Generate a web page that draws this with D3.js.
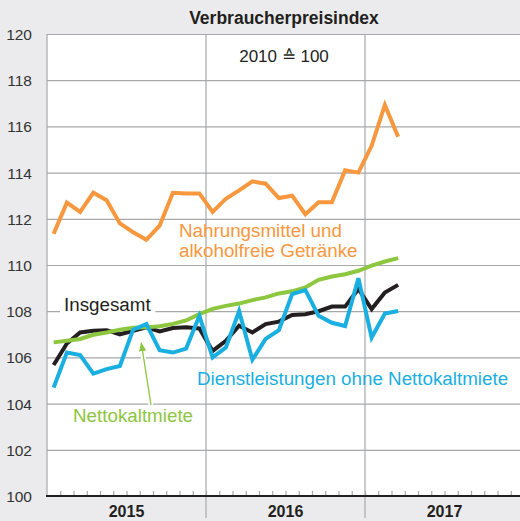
<!DOCTYPE html>
<html>
<head>
<meta charset="utf-8">
<script src="https://cdn.jsdelivr.net/npm/d3@7"></script>
<style>
  html, body { margin: 0; padding: 0; background: #ebebed; }
  svg { display: block; font-family: "Liberation Sans", Arial, sans-serif; }
</style>
</head>
<body>
<svg id="chart" width="520" height="521"></svg>
<script>
// Monthly index values, Jan 2015 – Mar 2017 (2010 = 100)
const years = ["2015", "2016", "2017"];
const yTicks = [100, 102, 104, 106, 108, 110, 112, 114, 116, 118, 120];

const insgesamt = [105.67, 106.6, 107.08, 107.15, 107.18, 107.0, 107.15, 107.3, 107.12,
  107.27, 107.3, 107.25, 106.28, 106.72, 107.37, 107.08, 107.44, 107.55,
  107.84, 107.87, 108.0, 108.2, 108.2, 108.96, 108.09, 108.81, 109.14];

const nahrung = [111.35, 112.7, 112.3, 113.13, 112.8, 111.8, 111.42, 111.09, 111.7,
  113.13, 113.1, 113.1, 112.3, 112.87, 113.23, 113.62, 113.52, 112.9,
  113.0, 112.2, 112.72, 112.72, 114.1, 114.0, 115.16, 116.93, 115.55];

const nettokaltmiete = [106.65, 106.72, 106.8, 106.98, 107.08, 107.2, 107.28, 107.3, 107.35,
  107.45, 107.6, 107.87, 108.1, 108.23, 108.33, 108.48, 108.6, 108.77,
  108.86, 109.03, 109.36, 109.5, 109.6, 109.75, 109.97, 110.15, 110.3];

const dienstleistungen = [104.69, 106.21, 106.1, 105.3, 105.49, 105.63, 107.2, 107.44, 106.31,
  106.21, 106.38, 107.8, 106.0, 106.43, 108.0, 105.9, 106.8, 107.18,
  108.74, 108.91, 107.8, 107.5, 107.36, 109.43, 106.86, 107.9, 108.01];

const svg = d3.select("#chart");
const plotL = 47, plotR = 524, plotT = 34, plotB = 496;

const x = d3.scaleLinear().domain([0, 36]).range([plotL, plotR]);
const y = d3.scaleLinear().domain([100, 120]).range([plotB, plotT]);

// Plot area
svg.append("rect")
  .attr("x", plotL).attr("y", plotT)
  .attr("width", plotR - plotL).attr("height", plotB - plotT)
  .attr("fill", "#fff");

// Horizontal grid
svg.append("g")
  .attr("transform", `translate(${plotL},0)`)
  .call(d3.axisLeft(y).tickValues(yTicks).tickSize(-(plotR - plotL)).tickFormat(""))
  .call(g => g.select(".domain").remove())
  .call(g => g.selectAll("line").attr("stroke", "#a7a8ab").attr("stroke-width", 1.2));

// Y labels
svg.append("g").selectAll("text")
  .data(yTicks).join("text")
  .attr("x", 32).attr("y", d => y(d) + 2)
  .attr("text-anchor", "end")
  .attr("dominant-baseline", "middle")
  .attr("font-size", 15.5).attr("fill", "#333")
  .text(d => d);

// Left border
svg.append("line")
  .attr("x1", plotL).attr("x2", plotL).attr("y1", plotT).attr("y2", plotB)
  .attr("stroke", "#a7a8ab").attr("stroke-width", 1.2);

// Year separators
svg.append("g").selectAll("line")
  .data([12, 24]).join("line")
  .attr("x1", d => x(d)).attr("x2", d => x(d))
  .attr("y1", plotT).attr("y2", 518)
  .attr("stroke", "#a7a8ab").attr("stroke-width", 1.2);

// Month ticks on the x axis
svg.append("g")
  .attr("transform", `translate(0,${plotB})`)
  .call(d3.axisTop(x).tickValues(d3.range(1, 36)).tickSize(5).tickFormat(""))
  .call(g => g.select(".domain").remove())
  .call(g => g.selectAll("line").attr("stroke", "#a7a8ab").attr("stroke-width", 1.2));

svg.append("line")
  .attr("x1", plotL - 1).attr("x2", 520).attr("y1", plotB).attr("y2", plotB)
  .attr("stroke", "#231f20").attr("stroke-width", 2);

// Year labels
svg.append("g").selectAll("text")
  .data(years).join("text")
  .attr("x", (d, i) => x(i * 12 + 6))
  .attr("y", 517)
  .attr("text-anchor", "middle")
  .attr("font-size", 16).attr("font-weight", "bold").attr("fill", "#231f20")
  .text(d => d);

// Title and base note
svg.append("text")
  .attr("x", 284).attr("y", 24)
  .attr("text-anchor", "middle")
  .attr("font-size", 17.5).attr("font-weight", "bold").attr("fill", "#231f20")
  .text("Verbraucherpreisindex");

svg.append("text")
  .attr("x", 284).attr("y", 62)
  .attr("text-anchor", "middle")
  .attr("font-size", 17).attr("fill", "#231f20")
  .text("2010 \u2259 100");

// Series lines
const line = d3.line().x((d, i) => x(i + 0.5)).y(d => y(d));
const series = [
  { values: insgesamt, color: "#231f20" },
  { values: nettokaltmiete, color: "#8dc63f" },
  { values: dienstleistungen, color: "#1aafe1" },
  { values: nahrung, color: "#f7973e" }
];

// Series labels; a white box behind some of them breaks the grid
function label(txt, tx, ty, color, box) {
  const t = svg.append("text")
    .attr("x", tx).attr("y", ty)
    .attr("font-size", 18.8).attr("fill", color)
    .text(txt);
  if (box) {
    const b = t.node().getBBox();
    svg.insert("rect", () => t.node())
      .attr("x", b.x - 4).attr("y", b.y).attr("width", b.width + 8).attr("height", b.height)
      .attr("fill", "#fff");
  }
  return t;
}

label("Insgesamt", 64, 311, "#231f20", true);

series.forEach(s => {
  svg.append("path")
    .datum(s.values)
    .attr("fill", "none")
    .attr("stroke", s.color)
    .attr("stroke-width", 4)
    .attr("stroke-linejoin", "miter")
    .attr("d", line);
});

label("Nahrungsmittel und", 179, 237, "#f7973e", false);
label("alkoholfreie Getränke", 179, 257, "#f7973e", false);
label("Dienstleistungen ohne Nettokaltmiete", 197, 385, "#1aafe1", false);

// Nettokaltmiete label with pointer
label("Nettokaltmiete", 73, 422, "#8dc63f", true);
svg.append("defs").append("marker")
  .attr("id", "arr").attr("viewBox", "0 0 10 10")
  .attr("refX", 9).attr("refY", 5)
  .attr("markerWidth", 7).attr("markerHeight", 7)
  .attr("orient", "auto")
  .append("path").attr("d", "M0,1 L10,5 L0,9 Z").attr("fill", "#8dc63f");
svg.append("line")
  .attr("x1", 151).attr("y1", 405).attr("x2", 141).attr("y2", 342)
  .attr("stroke", "#fff").attr("stroke-width", 5);
svg.append("line")
  .attr("x1", 151).attr("y1", 405).attr("x2", 141.3).attr("y2", 343)
  .attr("stroke", "#8dc63f").attr("stroke-width", 1.3)
  .attr("marker-end", "url(#arr)");
</script>
</body>
</html>
